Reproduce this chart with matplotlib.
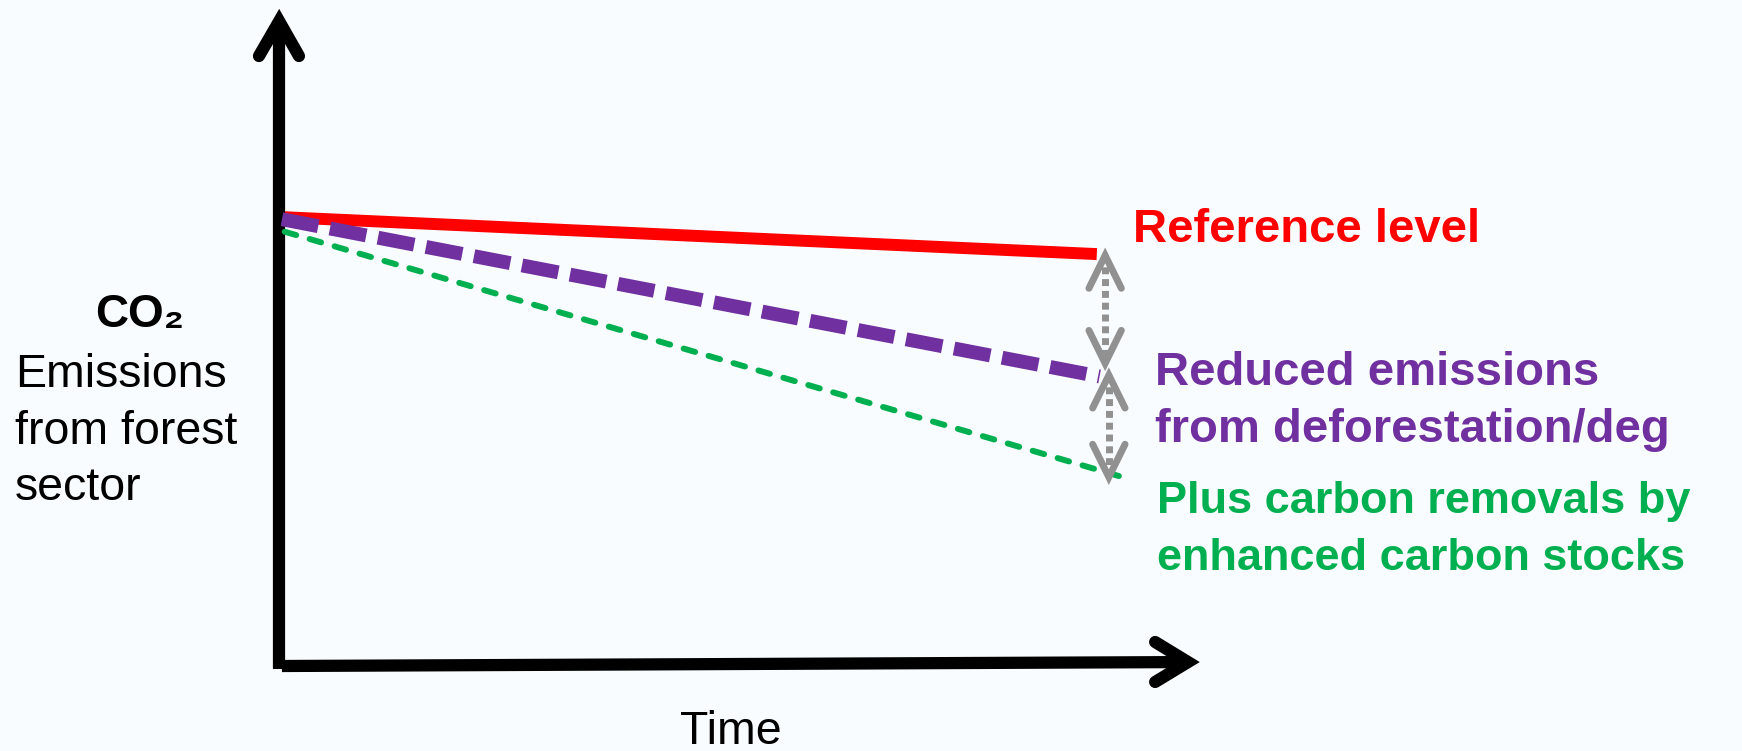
import matplotlib.pyplot as plt

# dados (unidades arbitrarias: tempo x emissoes)
tempo_ref = [0.04, 8.81]
nivel_referencia = [6.82, 6.26]
tempo_red = [0.01, 8.84]
emissoes_reduzidas = [6.79, 4.40]
tempo_rem = [0.04, 9.09]
com_remocoes = [6.60, 2.87]

# setas cinzas entre as curvas (x, y_de_cima, y_de_baixo)
setas = [(8.90, 6.24, 4.60), (8.94, 4.42, 2.87)]

VERMELHO = '#ff0000'
ROXO = '#7030a0'
VERDE = '#00b050'
CINZA = '#919191'
FUNDO = '#f9fcfe'

plt.rcParams['font.family'] = ['Liberation Sans', 'DejaVu Sans']

fig = plt.figure(figsize=(17.42, 7.51), dpi=100, facecolor=FUNDO)
ax = fig.add_axes([281 / 1742, 85 / 751, 926 / 1742, 658 / 751])
ax.set_xlim(0, 10)
ax.set_ylim(0, 10)
ax.axis('off')


# eixos com seta
def seta_eixo(ax, base, ponta, asa1, asa2):
    kw = dict(color='black', lw=8.8, transform=ax.transAxes, clip_on=False)
    ax.plot([base[0], ponta[0]], [base[1], ponta[1]], solid_capstyle='butt', **kw)
    ax.plot([asa1[0], ponta[0], asa2[0]], [asa1[1], ponta[1], asa2[1]],
            solid_capstyle='round', solid_joinstyle='miter', **kw)

seta_eixo(ax, (-0.002, -0.005), (-0.002, 0.980), (-0.0238, 0.927), (0.0194, 0.927))
seta_eixo(ax, (0.001, 0.0), (0.9795, 0.006), (0.944, 0.0365), (0.944, -0.0243))

# linhas
ax.plot(tempo_ref, nivel_referencia, color=VERMELHO, lw=8.6, solid_capstyle='butt')
ax.plot(tempo_red, emissoes_reduzidas, color=ROXO, lw=10, dashes=(2.66, 0.86),
        dash_capstyle='butt')
ax.plot(tempo_rem, com_remocoes, color=VERDE, lw=4.3, dashes=(2.0, 2.35),
        dash_capstyle='round')

# setas duplas cinzas
for x, y1, y2 in setas:
    ax.plot([x, x], [y1, y2], color=CINZA, lw=5, dashes=(1.0, 0.7), dash_capstyle='butt')
    dx, dy = 0.175, 0.5
    ax.plot([x - dx, x, x + dx], [y1 - dy, y1, y1 - dy], color=CINZA, lw=5,
            solid_capstyle='round', solid_joinstyle='miter')
    ax.plot([x - dx, x, x + dx], [y2 + dy, y2, y2 + dy], color=CINZA, lw=5,
            solid_capstyle='round', solid_joinstyle='miter')


def px(x, y):
    return (x - 281) / 92.6, (666 - y) / 65.8


def texto(x, y, linhas, **kw):
    for i, linha in enumerate(linhas):
        ax.text(*px(x, y + i * 56.5), linha, va='baseline', clip_on=False, **kw)

texto(1133, 242, ['Reference level'], color=VERMELHO, fontsize=34, fontweight='bold')
texto(1155, 385, ['Reduced emissions', 'from deforestation/deg'], color=ROXO,
      fontsize=34, fontweight='bold')
texto(1157, 513, ['Plus carbon removals by', 'enhanced carbon stocks'], color=VERDE,
      fontsize=32.5, fontweight='bold')

ax.text(*px(140, 327), 'CO₂', ha='center', va='baseline', fontsize=33,
        fontweight='bold')
texto(15, 387, ['Emissions', 'from forest', 'sector'], fontsize=33.5)
ax.text(*px(731, 744), 'Time', ha='center', va='baseline', fontsize=33.5)

fig.savefig('out.png', dpi=100, facecolor=FUNDO)
